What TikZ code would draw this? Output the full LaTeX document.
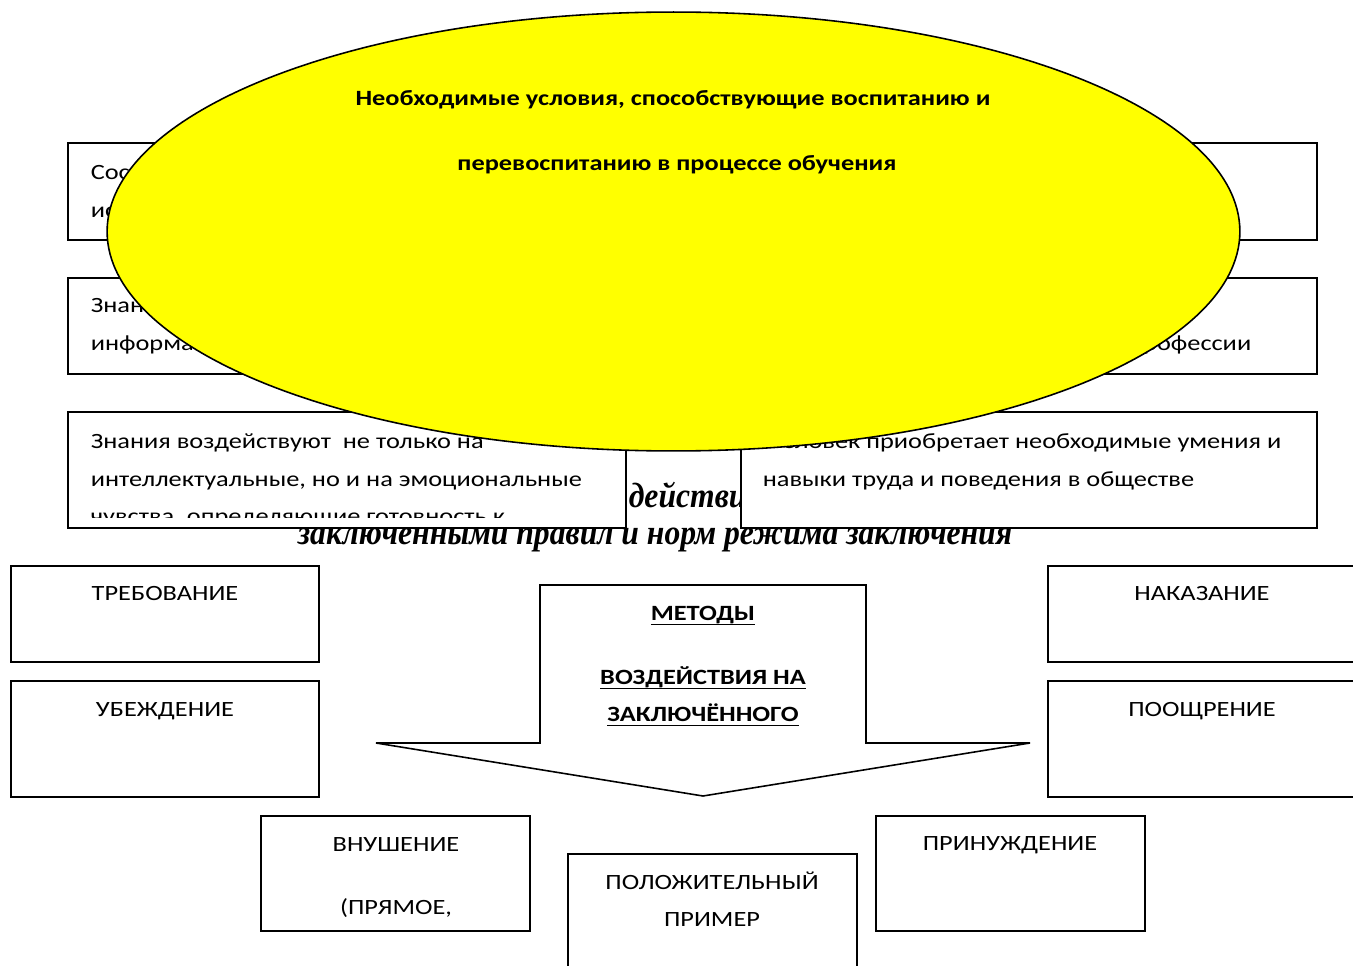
\documentclass[tikz,border=0pt]{standalone}
\usepackage{fontspec}
\setmainfont{Carlito}[FakeStretch=1.21]
\newfontfamily\timesfont{Liberation Serif}[FakeStretch=0.9]
\usetikzlibrary{shapes.geometric}

\definecolor{ovalyellow}{RGB}{255,255,0}

% underline with a heavier rule
\newcommand\undr[1]{\setbox0\hbox{#1}\rlap{\rule[-3pt]{\wd0}{1pt}}\box0}

\begin{document}
\begin{tikzpicture}[x=0.02cm, y=-0.02cm, line width=0.9pt,
  every node/.style={font=\fontsize{12.4}{15}\selectfont, inner sep=0pt},
  box/.style={draw, fill=white, rectangle},
  hdr/.style={font=\fontsize{12.4}{15}\selectfont\bfseries},
  slant/.style={font=\timesfont\bfseries\itshape\fontsize{20}{22}\selectfont}]
  \clip (0,0) rectangle (1353,966);

  % italic caption, mostly hidden behind the boxes
  \node[slant, anchor=base west] (cap1) at (628,507) {действи};
  \node[slant, anchor=base] (cap2) at (655,544) {заключенными правил и норм режима заключения};

  % upper boxes
  \node[box, minimum width=11.16cm, minimum height=1.94cm] (l1) at (347,191.5) {};
  \node[box, minimum width=11.52cm, minimum height=1.94cm] (r1) at (1029,191.5) {};
  \node[box, minimum width=11.16cm, minimum height=1.92cm] (l2) at (347,326) {};
  \node[box, minimum width=11.52cm, minimum height=1.92cm] (r2) at (1029,326) {};
  \node[box, minimum width=11.16cm, minimum height=2.32cm] (l3) at (347,470) {};
  \node[box, minimum width=11.52cm, minimum height=2.32cm] (r3) at (1029,470) {};

  \node[anchor=base west] (l1a) at (90,180) {Сос};
  \node[anchor=base west] (l1b) at (90,218) {ис};
  \node[anchor=base west] (l2a) at (90,313) {Знан};
  \node[anchor=base west] (l2b) at (90,351) {информа};
  \node[anchor=base east] (r2b) at (1252,351) {профессии};
  \node[anchor=base west] (l3a) at (90,448) {Знания воздействуют\ \ не только на};
  \node[anchor=base west] (l3b) at (90,486) {интеллектуальные, но и на эмоциональные};
  \begin{scope}
    \clip (68,412) rectangle (626,517);
    \node[anchor=base west] (l3c) at (90,523) {чувства, определяющие готовность к};
  \end{scope}
  \node[anchor=base east] (r3a) at (1282,448) {Человек приобретает необходимые умения и};
  \node[anchor=base west] (r3b) at (762,486) {навыки труда и поведения в обществе};

  % yellow oval on top
  \node[ellipse, draw, fill=ovalyellow, minimum width=22.66cm, minimum height=8.78cm] (oval) at (673.5,231.5) {};
  \node[hdr, anchor=base] (t1) at (673,106) {Необходимые условия, способствующие воспитанию и};
  \node[hdr, anchor=base] (t2) at (677,171) {перевоспитанию в процессе обучения};

  % methods
  \node[box, minimum width=6.16cm, minimum height=1.92cm] (treb) at (165,614) {};
  \node[box, minimum width=6.16cm, minimum height=2.32cm] (ubezh) at (165,739) {};
  \node[box, minimum width=6.16cm, minimum height=1.92cm] (nakaz) at (1202,614) {};
  \node[box, minimum width=6.16cm, minimum height=2.32cm] (poow) at (1202,739) {};
  \node[box, minimum width=5.38cm, minimum height=2.30cm] (vnush) at (395.5,873.5) {};
  \node[box, minimum width=5.78cm, minimum height=2.72cm] (prim) at (712.5,922) {};
  \node[box, minimum width=5.38cm, minimum height=2.30cm] (prin) at (1010.5,873.5) {};

  \node[anchor=base] (treb1) at (165,600) {ТРЕБОВАНИЕ};
  \node[anchor=base] (ubezh1) at (165,716) {УБЕЖДЕНИЕ};
  \node[anchor=base] (nakaz1) at (1202,600) {НАКАЗАНИЕ};
  \node[anchor=base] (poow1) at (1202,716) {ПООЩРЕНИЕ};
  \node[anchor=base] (vnush1) at (396,851) {ВНУШЕНИЕ};
  \node[anchor=base] (vnush2) at (396,914) {(ПРЯМОЕ,};
  \node[anchor=base] (prim1) at (712,889) {ПОЛОЖИТЕЛЬНЫЙ};
  \node[anchor=base] (prim2) at (712,926) {ПРИМЕР};
  \node[anchor=base] (prin1) at (1010,850) {ПРИНУЖДЕНИЕ};

  % arrow pointing down
  \draw (540,743) -- (540,585) -- (866,585) -- (866,743) -- (1030,743)
        -- (703,796) -- (376,743) -- cycle;
  \node[hdr, anchor=base] (m1) at (703,620) {\undr{МЕТОДЫ}};
  \node[hdr, anchor=base] (m2) at (703,684) {\undr{ВОЗДЕЙСТВИЯ НА}};
  \node[hdr, anchor=base] (m3) at (703,721) {\undr{ЗАКЛЮЧЁННОГО}};
\end{tikzpicture}
\end{document}
